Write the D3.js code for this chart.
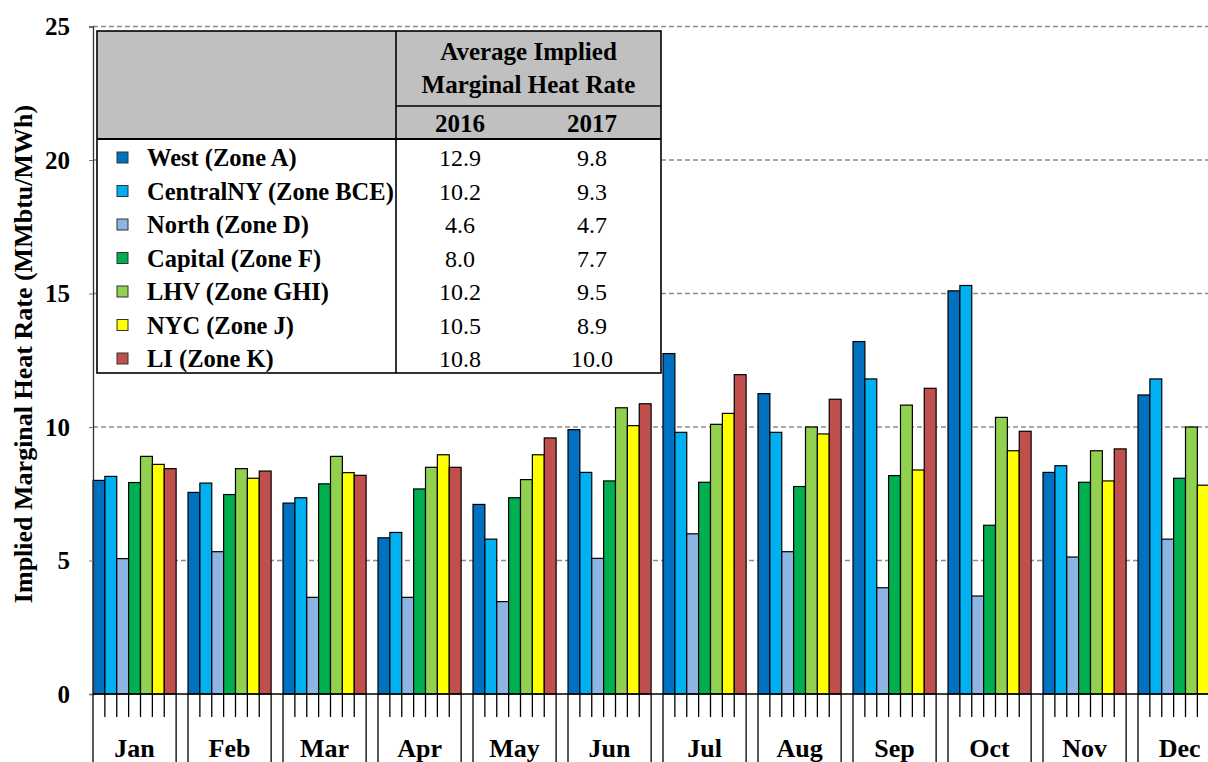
<!DOCTYPE html>
<html>
<head>
<meta charset="utf-8">
<script src="https://cdn.jsdelivr.net/npm/d3@7"></script>
<style>
  body { margin: 0; background: #fff; }
  svg { display: block; }
</style>
</head>
<body>
<div id="container"></div>
<script>
var months = ["Jan", "Feb", "Mar", "Apr", "May", "Jun", "Jul", "Aug", "Sep", "Oct", "Nov", "Dec"];
var zones = ["West (Zone A)", "CentralNY (Zone BCE)", "North (Zone D)", "Capital (Zone F)", "LHV (Zone GHI)", "NYC (Zone J)", "LI (Zone K)"];
var colors = ["#0070C0", "#00B0F0", "#8EB4E3", "#00B050", "#92D050", "#FFFF00", "#C0504D"];

// monthly implied marginal heat rate, one array per zone (Jan..Dec)
var west     = [8.0, 7.55, 7.15, 5.85, 7.1, 9.9, 12.75, 11.25, 13.2, 15.1, 8.3, 11.2];
var central  = [8.15, 7.9, 7.35, 6.05, 5.8, 8.3, 9.8, 9.8, 11.8, 15.3, 8.55, 11.8];
var north    = [5.07, 5.33, 3.62, 3.62, 3.46, 5.08, 6.0, 5.33, 3.98, 3.67, 5.13, 5.8];
var capital  = [7.92, 7.47, 7.87, 7.68, 7.35, 7.98, 7.93, 7.77, 8.18, 6.32, 7.93, 8.08];
var lhv      = [8.9, 8.44, 8.9, 8.49, 8.03, 10.72, 10.1, 10.0, 10.82, 10.36, 9.11, 10.0];
var nyc      = [8.6, 8.08, 8.29, 8.96, 8.96, 10.05, 10.51, 9.74, 8.39, 9.11, 7.98, 7.82];
var li       = [8.44, 8.35, 8.19, 8.49, 9.59, 10.87, 11.96, 11.04, 11.45, 9.84, 9.18, null];
var series = [west, central, north, capital, lhv, nyc, li];

var avg2016 = ["12.9", "10.2", "4.6", "8.0", "10.2", "10.5", "10.8"];
var avg2017 = ["9.8", "9.3", "4.7", "7.7", "9.5", "8.9", "10.0"];
var yTicks = [0, 5, 10, 15, 20, 25];

var W = 1208, H = 762;
var font = "Liberation Serif";
var svg = d3.select("#container").append("svg").attr("width", W).attr("height", H)
  .style("font-family", font);

var left = 93, zero = 694, step = 95;
var y = d3.scaleLinear().domain([0, 25]).range([zero, 26.5]);
var x0 = d3.scaleBand().domain(months)
  .range([left, left + step * months.length])
  .paddingInner(0.125).paddingOuter(0.0625).align(0);
var x1 = d3.scaleBand().domain(d3.range(zones.length)).range([0, x0.bandwidth()]);

// gridlines
svg.append("g").selectAll("line").data(yTicks.filter(function (d) { return d > 0; }))
  .enter().append("line")
  .attr("x1", left).attr("x2", W)
  .attr("y1", function (d) { return y(d); }).attr("y2", function (d) { return y(d); })
  .style("stroke", "#8c8c8c").style("stroke-width", 1.3).style("stroke-dasharray", "5,3");

// bars
var bars = [];
months.forEach(function (m, i) {
  series.forEach(function (s, j) {
    if (s[i] != null) bars.push({ month: m, zone: j, value: s[i] });
  });
});
svg.append("g").selectAll("rect").data(bars).enter().append("rect")
  .attr("x", function (d) { return x0(d.month) + x1(d.zone); })
  .attr("y", function (d) { return y(d.value); })
  .attr("width", x1.bandwidth())
  .attr("height", function (d) { return zero - y(d.value); })
  .style("fill", function (d) { return colors[d.zone]; })
  .style("stroke", "#000").style("stroke-width", 1.2);

// y axis
var yAxis = svg.append("g").attr("transform", "translate(" + left + ",0)")
  .call(d3.axisLeft(y).tickValues(yTicks).tickSize(4).tickPadding(19));
yAxis.attr("font-family", null);
yAxis.select(".domain").style("stroke", "#333").style("stroke-width", 1.3);
yAxis.selectAll(".tick line").style("stroke", "#777");
yAxis.selectAll(".tick text")
  .style("font-family", font)
  .style("font-size", "25px").style("font-weight", "bold").style("fill", "#000");

svg.append("text")
  .attr("transform", "translate(32,354) rotate(-90)")
  .attr("text-anchor", "middle")
  .style("font-family", font)
  .style("font-size", "26px").style("font-weight", "bold")
  .text("Implied Marginal Heat Rate (MMbtu/MWh)");

// x axis: baseline, slot ticks, month separators, labels
var xAxis = svg.append("g");
xAxis.append("line").attr("x1", left).attr("x2", W).attr("y1", zero).attr("y2", zero)
  .style("stroke", "#000").style("stroke-width", 1.5);
months.forEach(function (m) {
  var start = x0(m);
  d3.range(zones.length + 1).forEach(function (k) {
    var xx = start + k * x1.step();
    var edge = k === 0 || k === zones.length;
    xAxis.append("line").attr("x1", xx).attr("x2", xx)
      .attr("y1", zero).attr("y2", edge ? H : zero + 23)
      .style("stroke", "#000").style("stroke-width", 1.3);
  });
});
xAxis.selectAll("text").data(months).enter().append("text")
  .attr("x", function (d) { return x0(d) + x0.bandwidth() / 2; })
  .attr("y", 757)
  .attr("text-anchor", "middle")
  .style("font-family", font)
  .style("font-size", "26px").style("font-weight", "bold")
  .text(function (d) { return d; });

// summary table
var tb = { x: 97, y: 31, w: 564, h: 342, split: 396, head: 139, sub: 106 };
var table = svg.append("g").style("font-family", font);
table.append("rect").attr("x", tb.x).attr("y", tb.y).attr("width", tb.w).attr("height", tb.h)
  .style("fill", "#fff");
table.append("rect").attr("x", tb.x).attr("y", tb.y).attr("width", tb.w).attr("height", tb.head - tb.y)
  .style("fill", "#C0C0C0");
table.append("rect").attr("x", tb.x).attr("y", tb.y).attr("width", tb.w).attr("height", tb.h)
  .style("fill", "none").style("stroke", "#000").style("stroke-width", 1.6);
table.append("line").attr("x1", tb.split).attr("x2", tb.split).attr("y1", tb.y).attr("y2", tb.y + tb.h)
  .style("stroke", "#000").style("stroke-width", 1.6);
table.append("line").attr("x1", tb.x).attr("x2", tb.x + tb.w).attr("y1", tb.head).attr("y2", tb.head)
  .style("stroke", "#000").style("stroke-width", 2);
table.append("line").attr("x1", tb.split).attr("x2", tb.x + tb.w).attr("y1", tb.sub).attr("y2", tb.sub)
  .style("stroke", "#000").style("stroke-width", 1.6);

var midR = (tb.split + tb.x + tb.w) / 2;
var colA = 460, colB = 592;
table.append("text").attr("x", midR).attr("y", 60).attr("text-anchor", "middle")
  .style("font-size", "25px").style("font-weight", "bold").text("Average Implied");
table.append("text").attr("x", midR).attr("y", 93).attr("text-anchor", "middle")
  .style("font-size", "25px").style("font-weight", "bold").text("Marginal Heat Rate");
table.append("text").attr("x", colA).attr("y", 132).attr("text-anchor", "middle")
  .style("font-size", "25px").style("font-weight", "bold").text("2016");
table.append("text").attr("x", colB).attr("y", 132).attr("text-anchor", "middle")
  .style("font-size", "25px").style("font-weight", "bold").text("2017");

var rowY = d3.scaleLinear().domain([0, 6]).range([166, 367]);
var rows = table.selectAll("g.row").data(zones).enter().append("g").attr("class", "row");
rows.append("rect")
  .attr("x", 117).attr("y", function (d, i) { return rowY(i) - 14; })
  .attr("width", 11).attr("height", 11)
  .style("fill", function (d, i) { return colors[i]; })
  .style("stroke", "#333").style("stroke-width", 1);
rows.append("text").attr("x", 147).attr("y", function (d, i) { return rowY(i); })
  .style("font-size", "24.5px").style("font-weight", "bold")
  .text(function (d) { return d; });
rows.append("text").attr("x", colA).attr("y", function (d, i) { return rowY(i); })
  .attr("text-anchor", "middle").style("font-size", "24px")
  .text(function (d, i) { return avg2016[i]; });
rows.append("text").attr("x", colB).attr("y", function (d, i) { return rowY(i); })
  .attr("text-anchor", "middle").style("font-size", "24px")
  .text(function (d, i) { return avg2017[i]; });
</script>
</body>
</html>
